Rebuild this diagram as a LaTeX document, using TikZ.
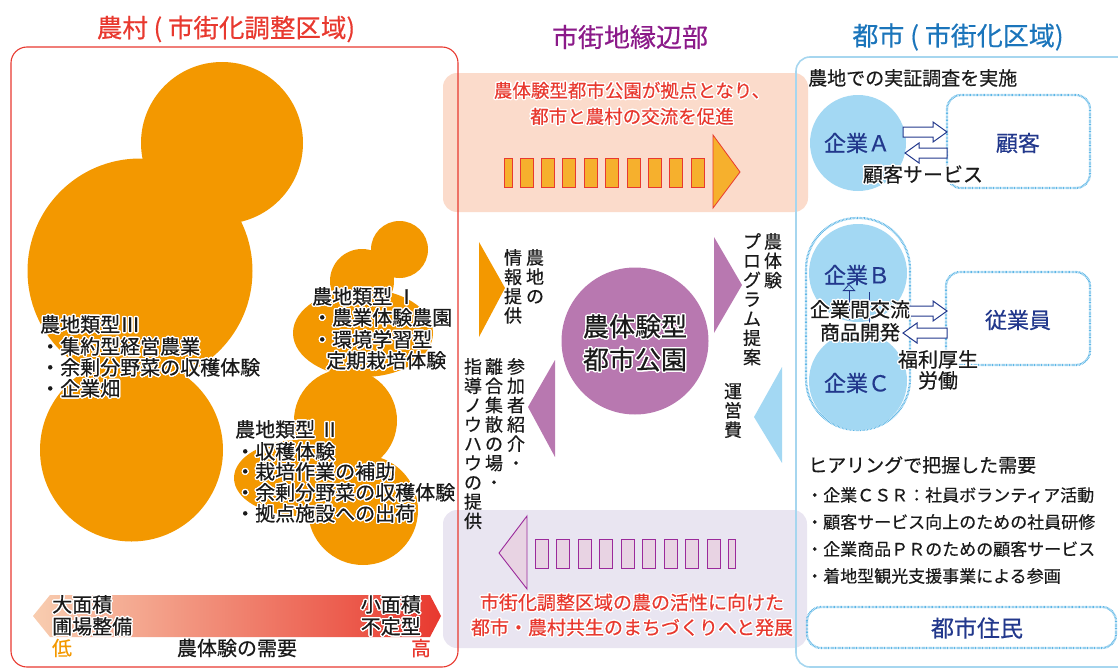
\documentclass[tikz,border=0pt]{standalone}
\usepackage{fontspec}
\setmainfont{Noto Sans CJK JP}[FakeBold=0.45]
\usepackage[copies]{contour}
\contourlength{1.3pt}
\contournumber{20}
\usetikzlibrary{arrows.meta}
\definecolor{rred}{HTML}{E8392F}
\definecolor{ppl}{HTML}{8B1A89}
\definecolor{bblue}{HTML}{1B75BB}
\definecolor{orng}{HTML}{F39800}
\definecolor{peach}{HTML}{FBDBCB}
\definecolor{lav}{HTML}{E9E5F1}
\definecolor{pcircle}{HTML}{B878B0}
\definecolor{lblue}{HTML}{A3D8F3}
\definecolor{frameblue}{HTML}{A6D6EF}
\definecolor{dotblue}{HTML}{5DB6E6}
\definecolor{navy}{HTML}{22388C}
\definecolor{dashfill}{HTML}{F6B02D}
\definecolor{pinkfill}{HTML}{E8D3E3}
\definecolor{pinkline}{HTML}{9B2A9B}
\definecolor{txt}{HTML}{1A1A1A}
\definecolor{barL}{HTML}{F8CDB0}
\definecolor{barR}{HTML}{E8392F}
\newcommand\hl[1]{\contour{white}{#1}}
\newcommand\fs[2]{\fontsize{#1}{#2}\selectfont}
\newcommand\harrowR[3]{\draw[harrow] (#1,{#3-5}) -- ({#2-14},{#3-5}) -- ({#2-14},{#3-10}) -- (#2,#3) -- ({#2-14},{#3+10}) -- ({#2-14},{#3+5}) -- (#1,{#3+5}) -- cycle;}
\newcommand\harrowL[3]{\draw[harrow] (#1,{#3-5}) -- ({#2+14},{#3-5}) -- ({#2+14},{#3-10}) -- (#2,#3) -- ({#2+14},{#3+10}) -- ({#2+14},{#3+5}) -- (#1,{#3+5}) -- cycle;}
\begin{document}
\begin{tikzpicture}[x=1pt,y=-1pt,
  lbl/.style={inner sep=0pt, text=txt},
  vtext/.style={inner sep=0pt, text=txt, align=center, anchor=north, font=\fs{18}{19.3}},
  dashrect/.style={fill=dashfill, draw=rred, line width=0.8pt},
  pinkrect/.style={fill=pinkfill, draw=pinkline, line width=0.9pt},
  dotbox/.style={draw=dotblue, line width=2.2pt, dash pattern=on 0.7pt off 0.7pt, fill=white, rounded corners=14pt},
  harrow/.style={draw=navy, fill=white, line width=1pt, line join=miter},
  navytext/.style={inner sep=0pt, text=navy, font=\fs{22}{24}},
  typetext/.style={lbl, anchor=west, font=\fs{20}{21}},
  bultext/.style={lbl, anchor=west, font=\fs{17}{20}}]
\useasboundingbox (0,0) rectangle (1118,669);
% background boxes
\fill[peach, rounded corners=14pt] (443,73) rectangle (808,212);
\fill[lav, rounded corners=14pt] (443,510) rectangle (807,648);
% frames
\draw[rred, line width=1.1pt, rounded corners=16pt] (11,47) rectangle (458,667);
\draw[frameblue, line width=1.6pt, rounded corners=14pt] (796,57) rectangle (1140,667);
% titles
\node[lbl, text=rred, font=\fs{25.5}{28}] (t1) at (226,29) {農村 ( 市街化調整区域)};
\node[lbl, text=ppl, font=\fs{26}{28}] (t2) at (630,37) {市街地縁辺部};
\node[lbl, text=bblue, font=\fs{26}{28}] (t3) at (958,37) {都市 ( 市街化区域)};
% orange circles
\fill[orng] (222,143) circle[radius=81pt];
\fill[orng] (140,271) circle[radius=112.5pt];
\fill[orng] (131.5,450) circle[radius=91.5pt];
\fill[orng] (399.5,249.5) circle[radius=28.5pt];
\fill[orng] (362,281) circle[radius=32pt];
\fill[orng] (363,333) ellipse[x radius=70pt, y radius=44pt];
\fill[orng] (345.5,420.5) circle[radius=51.5pt];
\fill[orng] (363,510) circle[radius=55pt];
\fill[orng] (300,478) ellipse[x radius=66pt, y radius=38pt];
% type texts
\node[typetext] (t3a) at (40,325) {\hl{農地類型Ⅲ}};
\node[typetext] (t3b) at (40,347) {\hl{・集約型経営農業}};
\node[typetext] (t3c) at (40,368) {\hl{・余剰分野菜の収穫体験}};
\node[typetext] (t3d) at (40,389) {\hl{・企業畑}};
\node[typetext] (t1a) at (312,297) {\hl{農地類型 Ⅰ}};
\node[typetext] (t1b) at (312,318) {\hl{・農業体験農園}};
\node[typetext] (t1c) at (312,340) {\hl{・環境学習型}};
\node[typetext] (t1d) at (326,361) {\hl{定期栽培体験}};
\node[typetext] (t2a) at (235,430) {\hl{農地類型 Ⅱ}};
\node[typetext] (t2b) at (235,452) {\hl{・収穫体験}};
\node[typetext] (t2c) at (235,472) {\hl{・栽培作業の補助}};
\node[typetext] (t2d) at (235,493) {\hl{・余剰分野菜の収穫体験}};
\node[typetext] (t2e) at (235,514) {\hl{・拠点施設への出荷}};
% bottom gradient bar
\shade[left color=barL, right color=barR] (33,616) -- (50,595) -- (430,595) -- (441,616) -- (430,637) -- (50,637) -- cycle;
\node[lbl, anchor=west, font=\fs{20}{21}] (b1) at (52,605) {\hl{大面積}};
\node[lbl, anchor=west, font=\fs{20}{21}] (b2) at (52,627) {\hl{圃場整備}};
\node[lbl, anchor=east, font=\fs{20}{21}] (b3) at (421,605) {\hl{小面積}};
\node[lbl, anchor=east, font=\fs{20}{21}] (b4) at (421,627) {\hl{不定型}};
\node[lbl, text=orng, font=\fs{20}{21}] (low) at (62,648) {低};
\node[lbl, font=\fs{20}{21}] (need) at (237,648) {農体験の需要};
\node[lbl, text=rred, font=\fs{20}{21}] (high) at (421,648) {高};
% top center arrow
\draw[dashrect] (504,158) rectangle (512,187);
\foreach \i in {0,...,8} \draw[dashrect] ({520+21.4*\i},158) rectangle ++(13,29);
\draw[dashrect] (713,135) -- (740,172) -- (713,208) -- cycle;
\node[lbl, text=rred, font=\fs{18.5}{21}] (c1) at (632,91) {\hl{農体験型都市公園が拠点となり、}};
\node[lbl, text=rred, font=\fs{18.5}{21}] (c2) at (632,117) {\hl{都市と農村の交流を促進}};
% bottom center arrow
\draw[pinkrect] (499,553) -- (527,516) -- (527,589) -- cycle;
\foreach \i in {0,...,8} \draw[pinkrect] ({535+21.5*\i},539) rectangle ++(13,29);
\draw[pinkrect] (728,539) rectangle (735,568);
\node[lbl, text=rred, font=\fs{19}{21}] (d1) at (632,603) {\hl{市街化調整区域の農の活性に向けた}};
\node[lbl, text=rred, font=\fs{19}{21}] (d2) at (632,628) {\hl{都市・農村共生のまちづくりへと発展}};
% center circle
\fill[pcircle] (635,341) circle[radius=73.5pt];
\node[lbl, font=\fs{26}{28}] (p1) at (635,327) {\hl{農体験型}};
\node[lbl, font=\fs{26}{28}] (p2) at (635,360) {\hl{都市公園}};
% triangles
\fill[orng] (479,242) -- (505,288) -- (479,337) -- cycle;
\fill[pcircle] (714,237) -- (742,285) -- (714,333) -- cycle;
\fill[lblue] (782,367) -- (754,417) -- (782,463) -- cycle;
\fill[pcircle] (555,360) -- (528,407) -- (555,457) -- cycle;
% vertical texts
\node[vtext] (v1) at (535,249) {農\\地\\の};
\node[vtext] (v2) at (513,249) {情\\報\\提\\供};
\node[vtext] (v3) at (773,233) {農\\体\\験};
\node[vtext] (v4) at (752,233) {プ\\ロ\\グ\\ラ\\ム\\提\\案};
\node[vtext] (v5) at (733,383) {運\\営\\費};
\node[vtext] (v6) at (516,358) {参\\加\\者\\紹\\介\\・};
\node[vtext] (v7) at (494,358) {離\\合\\集\\散\\の\\場\\・};
\node[vtext] (v8) at (473,358) {指\\導\\ノ\\ウ\\ハ\\ウ\\の\\提\\供};
% right region
\node[lbl, anchor=west, font=\fs{19}{22}] (r0) at (808,78) {農地での実証調査を実施};
\fill[lblue] (858,143) circle[radius=48pt];
\node[navytext] (ka) at (857,143) {企業Ａ};
\draw[dotbox] (947,95) rectangle (1090,188);
\node[navytext] (kk) at (1018,143) {顧客};
\harrowR{903}{947}{132}
\harrowL{947}{905}{153}
\node[lbl, font=\fs{20}{22}] (ks) at (923,175) {\hl{顧客サービス}};
\draw[dotbox, rounded corners=51pt] (806,218) rectangle (910,430);
\fill[lblue] (858,273) circle[radius=49pt];
\fill[lblue] (858,381) circle[radius=49pt];
\node[navytext] (kb) at (857,275) {企業Ｂ};
\node[navytext] (kc) at (857,383) {企業Ｃ};
\draw[navy, line width=0.8pt, -{Triangle[open,length=7pt,width=13pt]}] (849,320) -- (849,284);
\draw[navy, line width=0.8pt, -{Triangle[open,length=4pt,width=5pt]}] (869,292) -- (869,337);
\draw[dotbox] (946,272) rectangle (1090,365);
\node[navytext] (ke) at (1018,320) {従業員};
\harrowR{908}{947}{311}
\harrowL{947}{903}{333}
\node[lbl, font=\fs{20}{22}] (x1) at (860,310) {\hl{企業間交流}};
\node[lbl, font=\fs{20}{22}] (x2) at (860,333) {\hl{商品開発}};
\node[lbl, font=\fs{20}{22}] (w1) at (938,360) {\hl{福利厚生}};
\node[lbl, font=\fs{20}{22}] (w2) at (938,381) {\hl{労働}};
\node[lbl, anchor=west, font=\fs{19}{22}] (h0) at (808,465) {ヒアリングで把握した需要};
\node[bultext] (h1) at (806,495) {・企業ＣＳＲ：社員ボランティア活動};
\node[bultext] (h2) at (806,522) {・顧客サービス向上のための社員研修};
\node[bultext] (h3) at (806,549) {・企業商品ＰＲのための顧客サービス};
\node[bultext] (h4) at (806,576) {・着地型観光支援事業による参画};
\draw[dotbox] (807,607) rectangle (1116,648);
\node[navytext, font=\fs{23}{25}] (jm) at (977,628) {都市住民};
\end{tikzpicture}
\end{document}
